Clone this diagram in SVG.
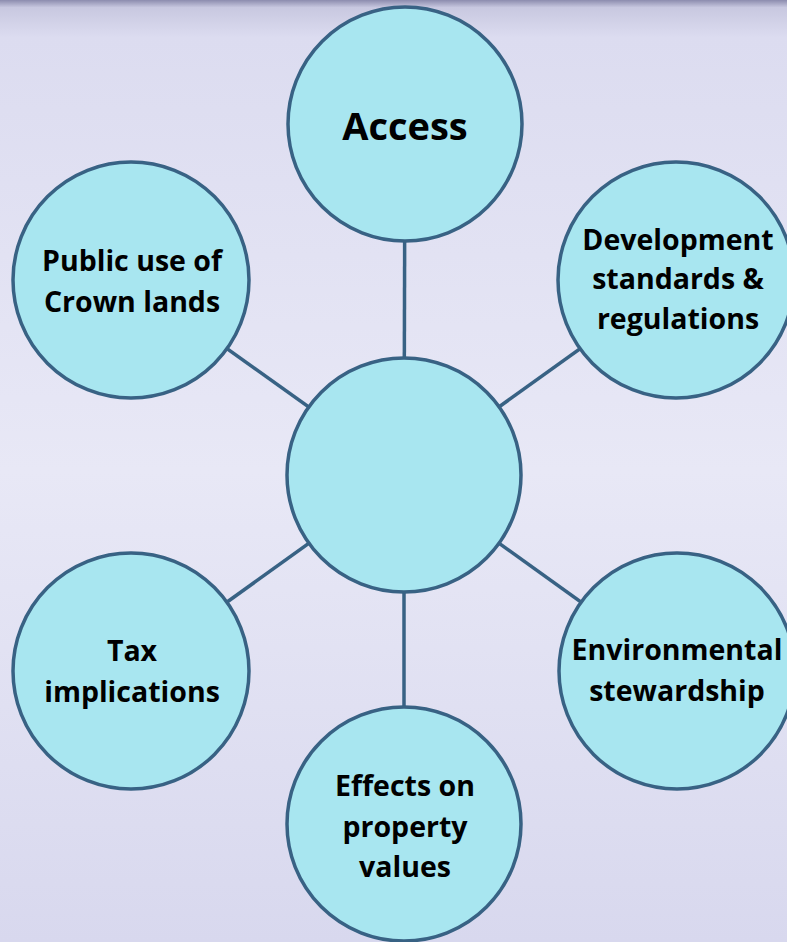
<svg xmlns="http://www.w3.org/2000/svg" width="787" height="942" viewBox="0 0 787 942">
<defs>
<linearGradient id="bg" x1="0" y1="0" x2="0" y2="1">
<stop offset="0" stop-color="#8c8cae"/>
<stop offset="0.008" stop-color="#c8c8e0"/>
<stop offset="0.04" stop-color="#dcdcf0"/>
<stop offset="0.5" stop-color="#e8e8f6"/>
<stop offset="1" stop-color="#d8d8ee"/>
</linearGradient>
<style>
.n{fill:#a8e6f0;stroke:#386284;stroke-width:3.5}
.c line{stroke:#386284;stroke-width:3.5}
text{font-family:"Open Sans","Liberation Sans",sans-serif;font-weight:bold;fill:#000;text-anchor:middle;font-size:28.5px}
</style>
</defs>
<rect width="787" height="942" fill="url(#bg)"/>
<g id="connectors" class="c">
<line x1="404" y1="475" x2="405" y2="124"/>
<line x1="404" y1="475" x2="131" y2="280"/>
<line x1="404" y1="475" x2="676" y2="280"/>
<line x1="404" y1="475" x2="131" y2="671"/>
<line x1="404" y1="475" x2="677" y2="671"/>
<line x1="404" y1="475" x2="404" y2="824"/>
</g>
<g id="center"><circle class="n" cx="404" cy="475" r="117"/></g>
<g id="access"><circle class="n" cx="405" cy="124" r="117"/><text x="405" y="140" style="font-size:38px">Access</text></g>
<g id="public"><circle class="n" cx="131" cy="280" r="118"/><text x="132" y="271">Public use of</text><text x="132" y="312">Crown lands</text></g>
<g id="development"><circle class="n" cx="676" cy="280" r="118"/><text x="678" y="250">Development</text><text x="678" y="289">standards &amp;</text><text x="678" y="329">regulations</text></g>
<g id="tax"><circle class="n" cx="131" cy="671" r="118"/><text x="132" y="661">Tax</text><text x="132" y="702">implications</text></g>
<g id="environmental"><circle class="n" cx="677" cy="671" r="118"/><text x="677" y="660">Environmental</text><text x="677" y="701">stewardship</text></g>
<g id="effects"><circle class="n" cx="404" cy="824" r="117"/><text x="405" y="796">Effects on</text><text x="405" y="837">property</text><text x="405" y="877">values</text></g>
</svg>
